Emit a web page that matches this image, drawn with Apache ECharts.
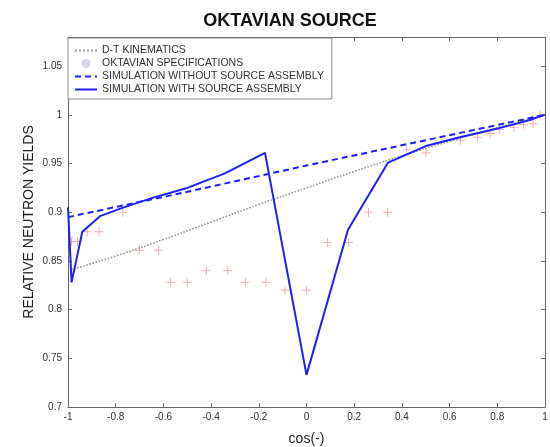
<!DOCTYPE html>
<html>
<head>
<meta charset="utf-8">
<script src="https://cdn.jsdelivr.net/npm/echarts@6/dist/echarts.min.js"></script>
<style>
  html, body { margin: 0; padding: 0; background: #fff; }
  #chart { width: 550px; height: 447px; }
</style>
</head>
<body>
<div id="chart"></div>
<script>
// Emission angles (cosine) at 10 degree steps
const cosAngles = [-1, -0.985, -0.94, -0.866, -0.766, -0.643, -0.5, -0.342, -0.174, 0,
                   0.174, 0.342, 0.5, 0.643, 0.766, 0.866, 0.94, 0.985, 1];

// D-T kinematics curve
const dtX = [-1, -0.8, -0.6, -0.4, -0.2, 0, 0.2, 0.4, 0.6, 0.8, 1];
const dtY = [0.84, 0.855, 0.872, 0.89, 0.908, 0.925, 0.942, 0.958, 0.973, 0.987, 1.0];

// Simulation without the source assembly
const noAsmX = [-1, -0.5, 0, 0.5, 1];
const noAsmY = [0.895, 0.921, 0.948, 0.974, 1.0];

// Simulation with the source assembly
const withAsmY = [0.905, 0.828, 0.88, 0.896, 0.905, 0.915, 0.925, 0.94, 0.961, 0.733,
                  0.882, 0.951, 0.968, 0.977, 0.984, 0.99, 0.995, 0.999, 1.0];

// OKTAVIAN specification points
const specX = [-0.985, -0.96, -0.92, -0.87, -0.77, -0.70, -0.62, -0.57, -0.50, -0.42, -0.33,
               -0.256, -0.17, -0.09, 0.0, 0.088, 0.176, 0.26, 0.34, 0.42, 0.50,
               0.646, 0.717, 0.77, 0.81, 0.87, 0.91, 0.95, 0.98];
const specY = [0.87, 0.87, 0.88, 0.88, 0.90, 0.861, 0.861, 0.828, 0.828, 0.84, 0.84,
               0.828, 0.828, 0.82, 0.82, 0.869, 0.869, 0.90, 0.90, 0.964, 0.961,
               0.974, 0.977, 0.981, 0.985, 0.987, 0.99, 0.991, 1.0];

const zip = (xs, ys) => xs.map((x, i) => [x, ys[i]]);

const names = ['D-T KINEMATICS', 'OKTAVIAN SPECIFICATIONS',
               'SIMULATION WITHOUT SOURCE ASSEMBLY', 'SIMULATION WITH SOURCE ASSEMBLY'];

const axisColor = '#666';
const labelColor = '#333';
const font = 'Liberation Sans, Arial, sans-serif';

const yFmt = v => Math.abs(v * 20 - Math.round(v * 20)) < 1e-6 ? String(+v.toFixed(2)) : '';
const xFmt = v => Math.abs(v * 5 - Math.round(v * 5)) < 1e-6 ? String(+v.toFixed(1)) : '';

const chart = echarts.init(document.getElementById('chart'), null, { renderer: 'canvas' });

const boxAxis = {
  axisLine: { show: true, onZero: false, lineStyle: { color: axisColor, width: 1 } },
  axisTick: { show: true, inside: true, length: 4, lineStyle: { color: axisColor } },
  splitLine: { show: false }
};

const hiddenSymbol = { opacity: 0 };

chart.setOption({
  backgroundColor: '#fff',
  animation: false,
  title: {
    text: 'OKTAVIAN SOURCE',
    left: 285, top: 7, textAlign: 'center',
    textStyle: { fontFamily: font, fontSize: 18, fontWeight: 'bold', color: '#111' }
  },
  grid: { left: 68, right: 5, top: 37, bottom: 40, containLabel: false, outerBoundsMode: 'none' },
  legend: {
    orient: 'vertical',
    left: 68, top: 38,
    padding: [7, 8, 4, 6],
    itemGap: 2,
    itemWidth: 22, itemHeight: 9,
    backgroundColor: '#fff',
    borderColor: '#888', borderWidth: 1, borderRadius: 0,
    textStyle: { fontFamily: font, fontSize: 10.5, color: '#333' },
    data: [
      { name: names[0], itemStyle: hiddenSymbol },
      { name: names[1], icon: 'circle', itemStyle: { color: '#c8cde0', borderWidth: 0 } },
      { name: names[2], itemStyle: hiddenSymbol },
      { name: names[3], itemStyle: hiddenSymbol }
    ]
  },
  xAxis: [{
    type: 'value', min: -1, max: 1, interval: 0.2,
    name: 'cos(-)', nameLocation: 'middle', nameGap: 25, nameMoveOverlap: false,
    nameTextStyle: { fontFamily: font, fontSize: 14, color: '#222' },
    axisLabel: { formatter: xFmt, fontFamily: font, fontSize: 10, color: labelColor, margin: 5 },
    ...boxAxis
  }, {
    type: 'value', min: -1, max: 1, interval: 0.2, position: 'top',
    axisLabel: { show: false }, ...boxAxis
  }],
  yAxis: [{
    type: 'value', min: 0.7, max: 1.08, interval: 0.05,
    name: 'RELATIVE NEUTRON YIELDS', nameLocation: 'middle', nameGap: 32, nameMoveOverlap: false,
    nameTextStyle: { fontFamily: font, fontSize: 14, color: '#222' },
    axisLabel: { formatter: yFmt, fontFamily: font, fontSize: 10, color: labelColor, margin: 6 },
    ...boxAxis
  }, {
    type: 'value', min: 0.7, max: 1.08, interval: 0.05, position: 'right',
    axisLabel: { show: false }, ...boxAxis
  }],
  series: [{
    name: names[0],
    type: 'line',
    data: zip(dtX, dtY),
    symbol: 'none',
    smooth: true,
    lineStyle: { color: '#999', width: 1.6, type: 'dotted' },
    itemStyle: { color: '#999' },
    z: 2
  }, {
    name: names[1],
    type: 'scatter',
    data: zip(specX, specY),
    symbol: 'path://M0,5L10,5M5,0L5,10',
    symbolSize: 9,
    itemStyle: { color: 'rgba(0,0,0,0)', borderColor: '#e8a0a0', borderWidth: 1 },
    z: 1
  }, {
    name: names[2],
    type: 'line',
    data: zip(noAsmX, noAsmY),
    symbol: 'none',
    lineStyle: { color: '#1e1eff', width: 2, type: [6, 4] },
    itemStyle: { color: '#1e1eff' },
    z: 3
  }, {
    name: names[3],
    type: 'line',
    data: zip(cosAngles, withAsmY),
    symbol: 'none',
    lineStyle: { color: '#1e1eff', width: 2 },
    itemStyle: { color: '#1e1eff' },
    z: 4
  }]
});
</script>
</body>
</html>
